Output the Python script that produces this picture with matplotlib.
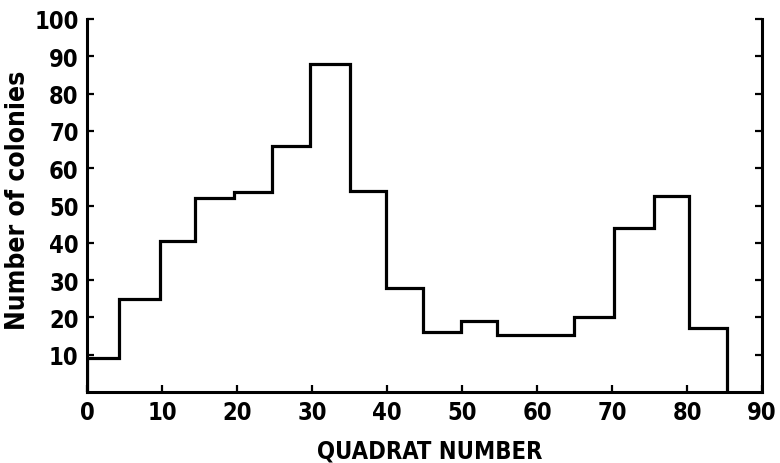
import matplotlib
matplotlib.use("Agg")
import matplotlib.pyplot as plt

# Data
bin_edges = [0, 4.2, 9.7, 14.4, 19.6, 24.7, 29.7, 35.1, 39.9, 44.8, 49.9,
             54.7, 60.0, 64.9, 70.2, 75.6, 80.2, 85.3]
colonies = [9, 25, 40.5, 52, 53.5, 66, 88, 54, 28, 16, 19, 15.4, 15.2, 20,
            44, 52.5, 17.2]
x_ticks = [0, 10, 20, 30, 40, 50, 60, 70, 80, 90]
y_ticks = [10, 20, 30, 40, 50, 60, 70, 80, 90, 100]

plt.rcParams['font.family'] = ['DejaVu Sans']

fig = plt.figure(figsize=(7.8, 4.64), dpi=100)
ax = fig.add_axes([87 / 780, 1 - 393 / 464, (762 - 87) / 780, (393 - 20) / 464])

ax.stairs(colonies, bin_edges, baseline=0, color='black', linewidth=2.3)

ax.set_xlim(0, 90)
ax.set_ylim(0, 100)
ax.spines['top'].set_visible(False)
for s in ['left', 'right', 'bottom']:
    ax.spines[s].set_linewidth(2.2)

ax.set_xticks(x_ticks)
ax.set_yticks(y_ticks)
ax.tick_params(axis='both', direction='in', length=5, width=1.6,
               labelsize=17, pad=6)
ax.tick_params(axis='y', right=True, labelright=False)
for lab in ax.get_xticklabels() + ax.get_yticklabels():
    lab.set_fontstretch('condensed')
    lab.set_fontweight('bold')

ax.set_xlabel('QUADRAT NUMBER', fontsize=17, fontstretch='condensed',
              fontweight='bold')
ax.set_ylabel('Number of colonies', fontsize=19, fontstretch='condensed',
              fontweight='bold')
ax.xaxis.set_label_coords(0.508, -0.125)
ax.yaxis.set_label_coords(-0.083, 0.517)

fig.savefig('out.png', dpi=100)
